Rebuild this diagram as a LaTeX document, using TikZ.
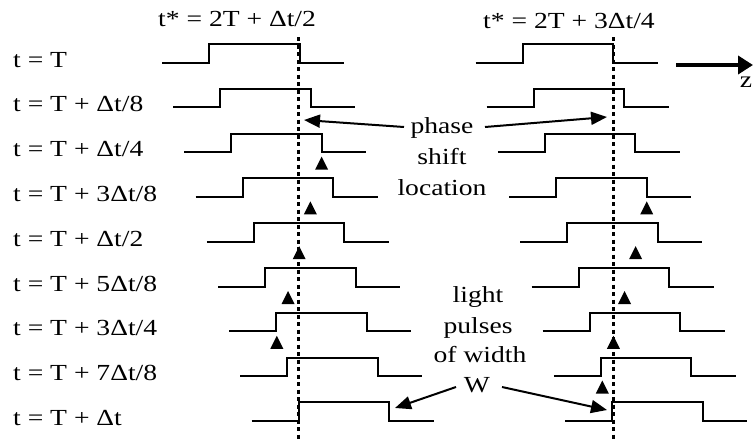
\documentclass[tikz,border=0pt]{standalone}
\usepackage{fontspec}
\setmainfont{Liberation Serif}
\usetikzlibrary{arrows.meta}
\newcommand\sx[1]{\scalebox{1.2}[1]{#1}}
\begin{document}
\begin{tikzpicture}[x=1pt,y=-1pt,
  txt/.style={font=\fontsize{23}{30}\selectfont, inner sep=0pt},
  pulse/.style={line width=2pt, line join=miter},
  marker/.style={draw=none, fill=black},
  dotline/.style={line width=3pt, dash pattern=on 4pt off 3.5pt},
  callout/.style={line width=2pt, -{Triangle[length=16pt,width=13pt]}},
  zarrow/.style={line width=4pt, -{Triangle[length=15pt,width=18pt]}}]
\useasboundingbox (0,0) rectangle (754,439);

% row labels
\foreach \k/\t in {0/{t = T},1/{t = T + Δt/8},2/{t = T + Δt/4},3/{t = T + 3Δt/8},
  4/{t = T + Δt/2},5/{t = T + 5Δt/8},6/{t = T + 3Δt/4},7/{t = T + 7Δt/8},8/{t = T + Δt}}{
  \node[txt, anchor=base west] (lab\k) at (13,67+44.8*\k) {\sx{\t}};
}

% titles
\node[txt, anchor=base west] (tit1) at (158,26) {\sx{t* = 2T + Δt/2}};
\node[txt, anchor=base west] (tit2) at (483,28) {\sx{t* = 2T + 3Δt/4}};

% dotted lines
\coordinate (dLa) at (298,37); \coordinate (dLb) at (298,439);
\coordinate (dRa) at (613,37); \coordinate (dRb) at (613,439);
\draw[dotline] (dLa) -- (dLb);
\draw[dotline] (dRa) -- (dRb);

% pulses
\foreach \k in {0,...,8}{
  \pgfmathsetmacro\dx{11.2*\k}
  \pgfmathsetmacro\yh{44+44.8*\k}
  \pgfmathsetmacro\yl{62.5+44.8*\k}
  \draw[pulse] (162+\dx,\yl) -- (209+\dx,\yl) -- (209+\dx,\yh) -- (299.5+\dx,\yh) -- (299.5+\dx,\yl) -- (344+\dx,\yl);
  \draw[pulse] (475.5+\dx,\yl) -- (522.5+\dx,\yl) -- (522.5+\dx,\yh) -- (613+\dx,\yh) -- (613+\dx,\yl) -- (657.5+\dx,\yl);
}

% small up markers
\foreach \k in {2,...,6}{
  \pgfmathsetmacro\mx{344-11.2*\k}
  \pgfmathsetmacro\my{67+44.8*\k}
  \fill[marker] (\mx,\my) -- (\mx-6.5,\my+13) -- (\mx+6.5,\my+13) -- cycle;
}
\foreach \k in {3,...,7}{
  \pgfmathsetmacro\mx{680-11.1*\k}
  \pgfmathsetmacro\my{67+44.8*\k}
  \fill[marker] (\mx,\my) -- (\mx-6.5,\my+13) -- (\mx+6.5,\my+13) -- cycle;
}

% phase shift location
\node[txt, anchor=base] (ph1) at (442,133) {\sx{phase}};
\node[txt, anchor=base] (ph2) at (442,164) {\sx{shift}};
\node[txt, anchor=base] (ph3) at (442,195) {\sx{location}};
\coordinate (pLt) at (404,127); \coordinate (pLh) at (304,120);
\coordinate (pRt) at (485,127); \coordinate (pRh) at (607,117);
\draw[callout] (pLt) -- (pLh);
\draw[callout] (pRt) -- (pRh);

% light pulses of width W
\node[txt, anchor=base] (lp1) at (478,302) {\sx{light}};
\node[txt, anchor=base] (lp2) at (478,333) {\sx{pulses}};
\node[txt, anchor=base] (lp3) at (480,362) {\sx{of width}};
\node[txt, anchor=base] (lp4) at (477,392) {\sx{W}};
\coordinate (wLt) at (456,387); \coordinate (wLh) at (395,408);
\coordinate (wRt) at (502,387); \coordinate (wRh) at (607,410);
\draw[callout] (wLt) -- (wLh);
\draw[callout] (wRt) -- (wRh);

% z axis
\coordinate (z0) at (676,65); \coordinate (z1) at (753,65);
\draw[zarrow] (z0) -- (z1);
\node[txt, anchor=base] (zl) at (746,87) {\sx{z}};
\end{tikzpicture}
\end{document}
